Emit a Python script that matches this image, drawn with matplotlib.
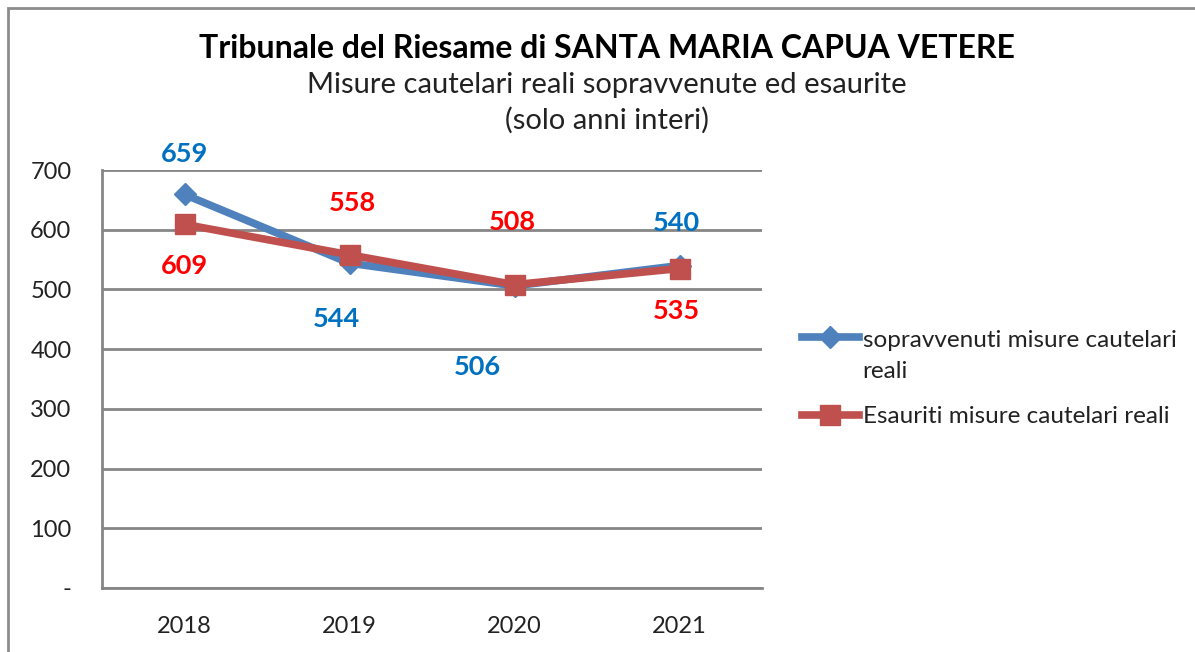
import matplotlib
matplotlib.use("Agg")
import matplotlib.pyplot as plt
from matplotlib.patches import Rectangle
from matplotlib.legend_handler import HandlerLine2D

years = ["2018", "2019", "2020", "2021"]
sopravvenuti = [659, 544, 506, 540]
esauriti = [609, 558, 508, 535]
yticks = [0, 100, 200, 300, 400, 500, 600, 700]
ytick_labels = ["-", "100", "200", "300", "400", "500", "600", "700"]

plt.rcParams['font.family'] = ['Lato', 'DejaVu Sans']


class RaisedHandler(HandlerLine2D):
    """Line handler drawn level with the first line of a two-line label."""
    def __init__(self, raise_pts, **kw):
        super().__init__(**kw)
        self.raise_pts = raise_pts

    def create_artists(self, legend, orig_handle, xdescent, ydescent, width, height,
                       fontsize, trans):
        return super().create_artists(legend, orig_handle, xdescent,
                                      ydescent - 2 * self.raise_pts, width, height,
                                      fontsize, trans)


W, H = 1195, 652
fig = plt.figure(figsize=(W/100, H/100), dpi=100)
fig.patches.append(Rectangle((8/W, -0.1), 1.2, 1 - 8/H + 0.1, transform=fig.transFigure,
                             fill=False, edgecolor='#8c8c8c', linewidth=2))

ax = fig.add_axes([102/W, 1 - 588/H, 660/W, (588 - 170)/H])
x = list(range(len(years)))
ax.set_xlim(-0.5, 3.5)
ax.set_ylim(0, 700)
ax.set_yticks(yticks)
ax.set_yticklabels(ytick_labels, fontsize=17, color='#222222')
ax.set_xticks(x)
ax.set_xticklabels(years, fontsize=17, color='#222222')
ax.tick_params(axis='both', length=0)
ax.tick_params(axis='y', pad=22)
ax.tick_params(axis='x', pad=20)
ax.grid(axis='y', color='#868686', linewidth=2)
ax.set_axisbelow(True)
for s in ['top', 'right']:
    ax.spines[s].set_visible(False)
for s in ['left', 'bottom']:
    ax.spines[s].set_color('#868686')
    ax.spines[s].set_linewidth(2)

l1, = ax.plot(x, sopravvenuti, color='#4F81BD', linewidth=5.5, marker='D', markersize=11,
              label='sopravvenuti misure cautelari\nreali', zorder=3)
l2, = ax.plot(x, esauriti, color='#C0504D', linewidth=5.5, marker='s', markersize=15,
              label='Esauriti misure cautelari reali', zorder=4)

blue_off = [(0, 40), (-13, -56), (-37, -81), (-3, 43)]
red_off = [(0, -42), (3, 52), (-2, 63), (-3, -42)]
for i in x:
    ax.annotate(str(sopravvenuti[i]), (i, sopravvenuti[i]), xytext=blue_off[i],
                textcoords='offset pixels', ha='center', va='center',
                fontsize=19.5, fontweight='bold', color='#0070C0')
    ax.annotate(str(esauriti[i]), (i, esauriti[i]), xytext=red_off[i],
                textcoords='offset pixels', ha='center', va='center',
                fontsize=19.5, fontweight='bold', color='#FF0000')

leg = fig.legend(handles=[l1, l2], loc='upper left', bbox_to_anchor=(797/W, 1 - 325/H),
                 frameon=False, fontsize=17.5, handlelength=2.35, handletextpad=0.15,
                 labelspacing=1.0, labelcolor='#222222', borderaxespad=0, borderpad=0.2,
                 handler_map={l1: RaisedHandler(13.3)})
for t in leg.get_texts():
    t.set_linespacing(1.6)

fig.text(607/W, 1 - 48/H, "Tribunale del Riesame di SANTA MARIA CAPUA VETERE",
         ha='center', va='center', fontsize=23, fontweight='bold')
fig.text(607/W, 1 - 85/H, "Misure cautelari reali sopravvenute ed esaurite",
         ha='center', va='center', fontsize=21, color='#222222')
fig.text(607/W, 1 - 120/H, "(solo anni interi)",
         ha='center', va='center', fontsize=21, color='#222222')

fig.savefig("out.png", dpi=100)
